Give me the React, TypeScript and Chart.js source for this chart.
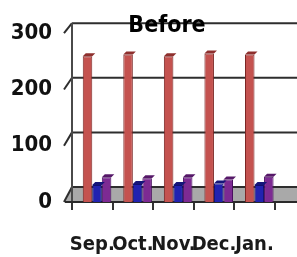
import React, { useEffect, useRef } from "react";
import { Chart, registerables } from "chart.js";

Chart.register(...registerables);

const TITLE = "Before";
const CATEGORIES = ["Sep.", "Oct.", "Nov.", "Dec.", "Jan."];
const SPACER: (number | null)[] = [null, null, null, null, null];
const RED_VALUES = [259, 262, 259, 264, 262];
const BLUE_VALUES = [30, 32, 30, 33, 30];
const PURPLE_VALUES = [44, 42, 44, 40, 45];
const Y_TICKS = [0, 100, 200, 300];

const FONT = "'DejaVu Sans Condensed', 'DejaVu Sans', sans-serif";
const FLOOR_DEPTH = 15;
const BACK_SCALE = 165 / 170;
const CAP = 3;
const TITLE_X_FROM_LEFT = 95;
const TITLE_Y = 26;

const CAP_COLORS = ["rgba(0,0,0,0)", "#8e2f2d", "#15157a", "#561868"];

const wallPlugin = {
  id: "wall3d",
  beforeDatasetsDraw(chart: any) {
    const { ctx, chartArea, scales } = chart;
    const y = scales.y;
    const { left, bottom } = chartArea;
    const W = chart.width;
    const back = (v: number) =>
      (y.getPixelForValue(v) - bottom) * BACK_SCALE + bottom - FLOOR_DEPTH;
    ctx.save();
    ctx.fillStyle = "#a9a9a9";
    ctx.beginPath();
    ctx.moveTo(left, back(0));
    ctx.lineTo(W, back(0));
    ctx.lineTo(W, bottom);
    ctx.lineTo(left - 7, bottom);
    ctx.closePath();
    ctx.fill();
    ctx.strokeStyle = "#2e2e2e";
    ctx.lineWidth = 2;
    Y_TICKS.forEach((v) => {
      ctx.beginPath();
      ctx.moveTo(left, back(v));
      ctx.lineTo(W, back(v));
      ctx.stroke();
      ctx.beginPath();
      ctx.moveTo(left - 8, y.getPixelForValue(v));
      ctx.lineTo(left, back(v));
      ctx.stroke();
    });
    ctx.strokeStyle = "#4a4a4a";
    ctx.beginPath();
    ctx.moveTo(left, back(300));
    ctx.lineTo(left, bottom);
    ctx.stroke();
    ctx.strokeStyle = "#2a2a2a";
    ctx.beginPath();
    ctx.moveTo(left - 7, bottom);
    ctx.lineTo(W, bottom);
    ctx.stroke();
    ctx.restore();
  },
  afterDatasetsDraw(chart: any) {
    const { ctx, chartArea } = chart;
    ctx.save();
    chart.data.datasets.forEach((ds: any, di: number) => {
      if (di === 0) return;
      const meta = chart.getDatasetMeta(di);
      meta.data.forEach((el: any) => {
        const { x, y, width } = el.getProps(["x", "y", "width"], true);
        if (y == null || isNaN(y)) return;
        const l = x - width / 2;
        const r = x + width / 2;
        ctx.fillStyle = CAP_COLORS[di];
        ctx.beginPath();
        ctx.moveTo(l, y);
        ctx.lineTo(l + CAP, y - CAP);
        ctx.lineTo(r + CAP, y - CAP);
        ctx.lineTo(r, y);
        ctx.closePath();
        ctx.fill();
      });
    });
    ctx.fillStyle = "#000";
    ctx.font = `bold 23px ${FONT}`;
    ctx.textAlign = "center";
    ctx.textBaseline = "middle";
    ctx.fillText(TITLE, chartArea.left + TITLE_X_FROM_LEFT, TITLE_Y);
    ctx.restore();
  },
};

export default function App() {
  const ref = useRef<HTMLCanvasElement | null>(null);
  useEffect(() => {
    if (!ref.current) return;
    const chart = new Chart(ref.current, {
      type: "bar",
      data: {
        labels: CATEGORIES,
        datasets: [
          { label: "", data: SPACER, backgroundColor: "rgba(0,0,0,0)" },
          {
            label: "A",
            data: RED_VALUES,
            backgroundColor: "#c4524f",
            borderColor: "#7a2624",
            borderWidth: 1,
          },
          {
            label: "B",
            data: BLUE_VALUES,
            backgroundColor: "#2222b0",
            borderColor: "#101070",
            borderWidth: 1,
          },
          {
            label: "C",
            data: PURPLE_VALUES,
            backgroundColor: "#7d2a93",
            borderColor: "#4a1060",
            borderWidth: 1,
          },
        ],
      },
      options: {
        animation: false,
        responsive: false,
        maintainAspectRatio: false,
        layout: { padding: { left: 8, right: 2.5, top: 32, bottom: 0 } },
        datasets: { bar: { categoryPercentage: 0.94, barPercentage: 1 } },
        plugins: {
          legend: { display: false },
          tooltip: { enabled: false },
          title: { display: false },
        },
        scales: {
          x: {
            offset: true,
            afterFit: (s: any) => {
              s.height = 55;
            },
            grid: {
              offset: true,
              drawOnChartArea: false,
              drawTicks: true,
              tickLength: 8,
              color: "#333",
              lineWidth: 2,
            },
            border: { display: false },
            ticks: {
              color: "#1a1a1a",
              font: { family: FONT, size: 20, weight: "bold" },
              padding: 23,
              maxRotation: 0,
              autoSkip: false,
            },
          },
          y: {
            min: 0,
            max: 300,
            afterFit: (s: any) => {
              s.width = 64;
            },
            grid: { display: false, drawTicks: false },
            border: { display: false },
            ticks: {
              stepSize: 100,
              color: "#111",
              padding: 20,
              font: { family: FONT, size: 22, weight: "bold" },
            },
          },
        },
      },
      plugins: [wallPlugin],
    });
    return () => chart.destroy();
  }, []);
  return (
    <div style={{ position: "absolute", left: 0, top: 0, width: 297, height: 257, background: "#fff" }}>
      <canvas ref={ref} width={297} height={257} style={{ width: 297, height: 257, display: "block" }} />
    </div>
  );
}
